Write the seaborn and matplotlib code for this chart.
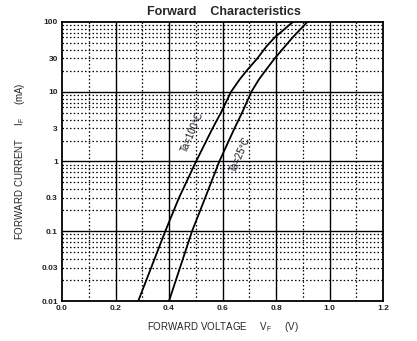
import matplotlib
matplotlib.use("Agg")
import matplotlib.pyplot as plt
import seaborn as sns
import pandas as pd
from matplotlib.ticker import FixedLocator, NullFormatter

sns.set_theme(style="white")
plt.rcParams['font.family'] = ['Liberation Sans', 'DejaVu Sans']

# Data
current_ma = [0.01, 0.1, 0.3, 1, 3, 5, 10, 15, 20, 30, 45, 60, 100]
vf_100c = [0.285, 0.386, 0.437, 0.501, 0.563, 0.594, 0.632, 0.664, 0.690, 0.730, 0.765, 0.795, 0.863]
vf_25c = [0.400, 0.486, 0.535, 0.588, 0.645, 0.673, 0.708, 0.736, 0.760, 0.795, 0.834, 0.862, 0.917]

x_ticks = [0.0, 0.2, 0.4, 0.6, 0.8, 1.0, 1.2]
x_tick_labels = ["0.0", "0.2", "0.4", "0.6", "0.8", "1.0", "1.2"]
y_ticks = [0.01, 0.03, 0.1, 0.3, 1, 3, 10, 30, 100]
y_tick_labels = ["0.01", "0.03", "0.1", "0.3", "1", "3", "10", "30", "100"]

df = pd.DataFrame({
    "vf": vf_100c + vf_25c,
    "if": current_ma + current_ma,
    "ta": ["100"] * len(current_ma) + ["25"] * len(current_ma),
})

fig = plt.figure(figsize=(4.17, 3.41), dpi=100)
ax = fig.add_axes([0.1487, 0.1173, 0.7698, 0.8182])

ax.set_yscale("log")
ax.set_xlim(0, 1.2)
ax.set_ylim(0.01, 100)

# minor grid (dotted)
minor_x = [0.1, 0.3, 0.5, 0.7, 0.9, 1.1]
minor_y = [m * d for d in [0.01, 0.1, 1, 10] for m in range(2, 10)]
for xv in minor_x:
    ax.axvline(xv, color="black", lw=0.9, ls=(0, (1.2, 1.8)), zorder=1)
for yv in minor_y:
    ax.axhline(yv, color="black", lw=0.9, ls=(0, (1.2, 1.8)), zorder=1)
# major grid
for xv in x_ticks[1:-1]:
    ax.axvline(xv, color="black", lw=1.0, zorder=1.5)
for yv in [0.1, 1, 10]:
    ax.axhline(yv, color="black", lw=1.0, zorder=1.5)

sns.lineplot(data=df, x="vf", y="if", units="ta", estimator=None,
             color="black", lw=1.3, ax=ax, sort=False, zorder=3)

ax.xaxis.set_major_locator(FixedLocator(x_ticks))
ax.set_xticklabels(x_tick_labels)
ax.yaxis.set_major_locator(FixedLocator(y_ticks))
ax.set_yticklabels(y_tick_labels)
ax.yaxis.set_minor_formatter(NullFormatter())
ax.tick_params(axis="both", which="both", length=0, labelsize=6, pad=3)
for lab in ax.get_xticklabels() + ax.get_yticklabels():
    lab.set_fontweight("bold")
    lab.set_color("#222222")

for s in ax.spines.values():
    s.set_color("black")
    s.set_linewidth(1.3)

ax.set_xlabel("")
ax.set_ylabel("")

fig.text(0.538, 0.965, "Forward    Characteristics", ha="center", va="center",
         fontsize=9, fontweight="bold")
fig.text(0.535, 0.04, r"FORWARD VOLTAGE     V$_\mathregular{F}$     (V)", ha="center", va="center",
         fontsize=7)
fig.text(0.048, 0.526, r"FORWARD CURRENT     I$_\mathregular{F}$     (mA)", ha="center", va="center",
         fontsize=7, rotation=90)

ax.text(0.486, 2.68, "Ta=100\u00b0C", rotation=67, fontsize=7, ha="center", va="center",
        color="#1a1a2a", zorder=4)
ax.text(0.665, 1.26, "Ta=25\u00b0C", rotation=67, fontsize=7, ha="center", va="center",
        color="#1a1a2a", zorder=4)

fig.savefig("out.png", dpi=100)
